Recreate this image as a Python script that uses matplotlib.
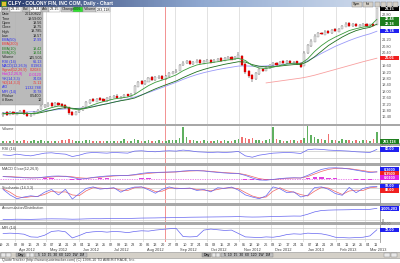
import matplotlib
matplotlib.use("Agg")
import matplotlib.pyplot as plt
import matplotlib.dates as mdates
from matplotlib.patches import Rectangle
from matplotlib.colors import LinearSegmentedColormap
import numpy as np
import pandas as pd

plt.rcParams["font.family"] = ["Liberation Sans", "DejaVu Sans"]

W, H = 400, 263

# ── Data ──────────────────────────────────────────────────────────────────────
START, END = "2012-03-21", "2013-03-12"
MARK_DATE = "2012-08-22"

CLOSE = [16.62, 16.55, 16.70, 16.58, 16.66, 16.78, 16.60, 16.48, 16.52, 16.70,
         16.85, 17.05, 17.12, 17.20, 17.08, 17.25, 17.18, 17.10, 16.95, 16.65,
         16.55, 16.72, 16.85, 17.00, 17.30, 17.42, 17.38, 17.50, 17.45, 17.40,
         17.55, 17.62, 17.70, 17.58, 17.66, 17.75, 17.70, 17.85, 18.30, 18.55,
         18.48, 18.62, 18.80, 18.72, 18.85, 18.90, 18.78, 18.95, 19.12, 19.20,
         19.28, 19.60, 19.78, 19.85, 19.70, 19.82, 19.90, 19.75, 19.85, 19.92,
         19.80, 19.95, 20.02, 19.90, 20.05, 20.10, 19.98, 20.12, 20.25, 19.65,
         19.20, 18.95, 18.75, 19.10, 19.35, 19.30, 19.48, 19.60, 19.72, 19.65,
         19.80, 19.75, 19.85, 19.78, 19.82, 19.70, 19.55, 20.40, 20.85, 21.15,
         21.45, 21.60, 21.55, 21.70, 21.65, 21.80, 21.75, 21.88, 22.05, 22.20,
         22.10, 22.15, 22.05, 22.12, 22.18, 22.08, 22.15, 22.10, 23.15]
OPEN = [16.50, 16.68, 16.55, 16.72, 16.55, 16.65, 16.80, 16.62, 16.45, 16.55,
        16.70, 16.88, 17.02, 17.10, 17.25, 17.10, 17.28, 17.20, 17.12, 16.98,
        16.70, 16.55, 16.70, 16.85, 17.02, 17.28, 17.48, 17.36, 17.55, 17.50,
        17.40, 17.52, 17.60, 17.72, 17.55, 17.64, 17.80, 17.68, 17.88, 18.30,
        18.60, 18.45, 18.60, 18.85, 18.70, 18.82, 18.92, 18.78, 18.95, 19.10,
        19.18, 19.30, 19.62, 19.75, 19.88, 19.68, 19.80, 19.92, 19.72, 19.85,
        19.95, 19.82, 19.92, 20.05, 19.92, 20.02, 20.12, 20.00, 20.10, 20.20,
        19.70, 19.25, 19.00, 18.78, 19.10, 19.40, 19.30, 19.45, 19.62, 19.75,
        19.66, 19.85, 19.74, 19.88, 19.76, 19.85, 19.72, 19.60, 20.42, 20.80,
        21.10, 21.42, 21.65, 21.52, 21.75, 21.62, 21.85, 21.72, 21.90, 22.02,
        22.22, 22.08, 22.20, 22.02, 22.10, 22.20, 22.05, 22.20, 22.15]
HIGH = [16.70, 16.74, 16.78, 16.80, 16.72, 16.85, 16.86, 16.68, 16.60, 16.76,
        16.92, 17.12, 17.22, 17.30, 17.32, 17.32, 17.35, 17.26, 17.18, 17.02,
        16.75, 16.80, 16.92, 17.08, 17.38, 17.50, 17.55, 17.58, 17.62, 17.56,
        17.62, 17.70, 17.78, 17.80, 17.72, 17.82, 17.86, 17.92, 18.40, 18.65,
        18.70, 18.70, 18.90, 18.92, 18.95, 19.00, 19.00, 19.02, 19.20, 19.28,
        19.36, 19.68, 19.86, 19.95, 19.95, 19.90, 19.98, 20.00, 19.92, 20.00,
        20.02, 20.02, 20.10, 20.12, 20.12, 20.18, 20.18, 20.20, 20.42, 20.28,
        19.78, 19.30, 19.08, 19.18, 19.45, 19.48, 19.55, 19.68, 19.80, 19.82,
        19.88, 19.92, 19.92, 19.95, 19.90, 19.90, 19.78, 20.50, 20.95, 21.25,
        21.55, 21.70, 21.72, 21.80, 21.82, 21.90, 21.92, 21.96, 22.12, 22.30,
        22.30, 22.25, 22.26, 22.20, 22.28, 22.26, 22.22, 22.26, 23.20]
LOW = [16.42, 16.48, 16.50, 16.50, 16.50, 16.60, 16.55, 16.40, 16.38, 16.50,
       16.65, 16.82, 16.98, 17.05, 17.00, 17.05, 17.10, 17.02, 16.90, 16.55,
       16.45, 16.50, 16.65, 16.80, 16.98, 17.22, 17.30, 17.30, 17.38, 17.32,
       17.35, 17.48, 17.55, 17.50, 17.50, 17.60, 17.62, 17.62, 17.82, 18.25,
       18.40, 18.40, 18.55, 18.65, 18.65, 18.75, 18.70, 18.72, 18.90, 19.05,
       19.12, 19.25, 19.58, 19.70, 19.62, 19.62, 19.75, 19.68, 19.68, 19.80,
       19.75, 19.78, 19.88, 19.85, 19.88, 19.98, 19.92, 19.95, 20.05, 19.55,
       19.10, 18.85, 18.60, 18.70, 19.02, 19.22, 19.25, 19.40, 19.58, 19.60,
       19.60, 19.70, 19.70, 19.72, 19.72, 19.65, 19.45, 19.55, 20.35, 20.75,
       21.05, 21.38, 21.48, 21.48, 21.58, 21.58, 21.68, 21.68, 21.85, 21.98,
       22.02, 22.02, 21.98, 21.98, 22.05, 22.02, 22.00, 22.05, 22.10]
VOLUME = [60, 45, 50, 70, 40, 55, 65, 50, 45, 80,
          60, 70, 55, 50, 60, 45, 50, 65, 70, 90,
          75, 55, 50, 60, 85, 70, 45, 50, 60, 55,
          45, 50, 60, 55, 45, 90, 60, 50, 110, 85,
          60, 55, 70, 60, 50, 65, 55, 60, 70, 75,
          65, 120, 390, 150, 80, 70, 60, 55, 65, 60,
          55, 60, 70, 55, 65, 60, 50, 70, 110, 160,
          130, 95, 120, 85, 70, 60, 65, 90, 400, 110,
          70, 60, 55, 65, 70, 60, 80, 120, 410, 200,
          150, 110, 90, 85, 220, 80, 70, 60, 90, 75,
          65, 60, 70, 55, 80, 65, 60, 90, 283.118]  # thousands

# indicators, sampled every 2nd bar
EMA10 = [16.60, 16.62, 16.63, 16.64, 16.60, 16.66, 16.84, 16.98, 17.08, 17.06,
         16.90, 16.84, 16.98, 17.15, 17.30, 17.40, 17.52, 17.58, 17.64, 17.80,
         18.08, 18.35, 18.56, 18.70, 18.85, 19.02, 19.28, 19.48, 19.64, 19.72,
         19.78, 19.84, 19.92, 19.98, 20.05, 19.92, 19.60, 19.45, 19.42, 19.50,
         19.60, 19.70, 19.75, 19.72, 20.02, 20.48, 20.85, 21.15, 21.38, 21.58,
         21.78, 21.90, 22.00, 22.06, 22.48]
EMA20 = [16.60, 16.61, 16.61, 16.62, 16.61, 16.63, 16.72, 16.82, 16.92, 16.98,
         16.94, 16.90, 16.94, 17.03, 17.13, 17.22, 17.32, 17.41, 17.48, 17.58,
         17.76, 17.96, 18.15, 18.32, 18.48, 18.64, 18.85, 19.04, 19.22, 19.36,
         19.48, 19.58, 19.68, 19.76, 19.84, 19.82, 19.66, 19.56, 19.52, 19.53,
         19.57, 19.62, 19.66, 19.67, 19.85, 20.15, 20.50, 20.85, 21.12, 21.38,
         21.60, 21.78, 21.90, 21.98, 22.18]
EMA50 = [16.65, 16.66, 16.68, 16.70, 16.72, 16.74, 16.78, 16.82, 16.86, 16.90,
         16.92, 16.94, 16.99, 17.06, 17.14, 17.22, 17.32, 17.42, 17.52, 17.64,
         17.78, 17.92, 18.08, 18.24, 18.40, 18.56, 18.74, 18.90, 19.04, 19.16,
         19.26, 19.35, 19.43, 19.50, 19.57, 19.58, 19.56, 19.56, 19.58, 19.62,
         19.66, 19.70, 19.74, 19.76, 19.90, 20.12, 20.36, 20.58, 20.80, 20.98,
         21.16, 21.32, 21.46, 21.58, 21.74]
EMA200 = [18.52, 18.58, 18.64, 18.70, 18.76, 18.82, 18.90, 19.00, 19.12, 19.24,
          19.36, 19.48, 19.60, 19.72, 19.84, 19.95, 20.06]  # last 17 samples
RSI = [48, 44, 52, 46, 42, 50, 58, 60, 55, 52, 38,
       46, 58, 62, 60, 58, 62, 60, 58, 70, 72,
       68, 66, 70, 72, 70, 76, 72, 66, 64, 62,
       64, 62, 64, 68, 42, 34, 46, 52, 58, 60,
       62, 60, 56, 78, 82, 80, 76, 74, 72, 70,
       66, 64, 62, 80]
MACD = [0.12, 0.10, 0.08, 0.06, 0.05, 0.06, 0.10, 0.14, 0.15, 0.13, 0.08,
        0.00, 0.02, 0.08, 0.12, 0.15, 0.17, 0.18, 0.18, 0.22, 0.28,
        0.32, 0.33, 0.34, 0.35, 0.36, 0.40, 0.42, 0.42, 0.40, 0.36,
        0.33, 0.30, 0.28, 0.27, 0.18, 0.05, -0.05, -0.06, -0.02, 0.02,
        0.05, 0.06, 0.05, 0.18, 0.34, 0.48, 0.55, 0.56, 0.54, 0.50,
        0.44, 0.38, 0.32, 0.36]
SIGNAL = [0.13, 0.12, 0.10, 0.08, 0.06, 0.06, 0.07, 0.10, 0.13, 0.14, 0.11,
          0.06, 0.04, 0.06, 0.09, 0.12, 0.15, 0.17, 0.18, 0.20, 0.24,
          0.28, 0.31, 0.33, 0.34, 0.35, 0.38, 0.40, 0.41, 0.41, 0.38,
          0.35, 0.32, 0.30, 0.28, 0.22, 0.12, 0.02, -0.03, -0.03, 0.00,
          0.03, 0.05, 0.05, 0.12, 0.25, 0.38, 0.48, 0.53, 0.54, 0.52,
          0.47, 0.42, 0.36, 0.35]
STOCH_K = [74, 42, 20, 30, 37, 32, 58, 74, 42, 75, 18, 50, 80, 89, 76, 80, 84, 58,
           78, 88, 89, 72, 52, 75, 89, 78, 80, 82, 68, 74, 60, 84, 80, 88, 70, 42,
           30, 20, 37, 89, 78, 55, 60, 30, 40, 85, 89, 75, 50, 40, 86, 55, 80, 89, 92]
STOCH_D = [78, 58, 32, 26, 32, 34, 45, 64, 58, 60, 42, 38, 66, 84, 82, 78, 82, 70,
           68, 84, 88, 80, 62, 64, 82, 82, 79, 81, 74, 70, 66, 74, 82, 84, 78, 56,
           36, 25, 30, 64, 84, 66, 58, 44, 36, 64, 86, 82, 62, 45, 65, 70, 68, 84, 88]
ACC_DIST = [200, 180, 230, 210, 190, 240, 300, 330, 310, 290, 230,
            260, 320, 360, 350, 380, 400, 390, 420, 470, 520,
            540, 560, 600, 620, 650, 700, 740, 760, 780, 800,
            820, 840, 860, 900, 820, 780, 800, 850, 900, 960,
            1000, 1040, 1020, 1500, 2100, 2450, 2550, 2600, 2620, 2650,
            2700, 2680, 2750, 3005.203]  # thousands
MFI = [50, 52, 50, 46, 30, 28, 40, 62, 66, 60, 24,
       38, 55, 60, 62, 58, 62, 60, 55, 62, 66,
       64, 70, 74, 78, 80, 32, 30, 32, 70, 76,
       72, 68, 70, 50, 30, 28, 26, 30, 28, 34,
       44, 48, 46, 52, 50, 48, 40, 28, 26, 24,
       26, 28, 36, 72]

INFO_ROWS = ["Date", "Time", "Open", "Close", "High", "Low", "EMA(50)", "EMA(200)",
             "EMA(10)", "EMA(20)", "Volume", "RSI (14)", "MACD(12,26,9)",
             "Signal(12,26,9)", "Hist(12,26,9)", "%K(14,3,3)", "%D(14,3,3)",
             "A/D", "MFI (14)", "P.Value", "# Bars"]
INFO_VALUES = ["20120822", "19:59:00", "19.56", "19.75", "19.785", "19.57", "17.99", "",
               "19.42", "19.04", "145,505", "66.13", "0.1963", "0.2083", "-0.0120",
               "74.08", "75.11", "1,132,788", "70.78", "0.5400", "10"]
QUOTE = [("Last", "23.15"), ("Bid", "23.14"), ("Ask", "23.15"),
         ("Change", "0.06"), ("Volume", "283,118")]
TITLE = "CLFY - COLONY FIN, INC COM, Daily - Chart"

# ── Derived positions ─────────────────────────────────────────────────────────
dates = pd.date_range(START, END, periods=len(CLOSE))
xd = mdates.date2num(dates)
step = xd[1] - xd[0]
xs = xd[::2]
o, c, h, l = map(np.array, (OPEN, CLOSE, HIGH, LOW))
up = c >= o
mark = mdates.date2num(pd.Timestamp(MARK_DATE))
months = mdates.date2num(pd.date_range(dates[0], dates[-1], freq="MS"))

BLUE = "#6464F0"
RED = "#F06464"


def px(x0, y0, x1, y1):
    return [x0 / W, 1 - y1 / H, (x1 - x0) / W, (y1 - y0) / H]


fig = plt.figure(figsize=(W / 100, H / 100), dpi=100)
fig.patch.set_facecolor("white")

bg = fig.add_axes([0, 0, 1, 1])
bg.set_xlim(0, W)
bg.set_ylim(H, 0)
bg.axis("off")

# title bar gradient
cmap = LinearSegmentedColormap.from_list("tb", ["#26386A", "#8FA8D0", "#D8E2F0"])
bg.imshow(np.linspace(0, 1, 200)[None, :], extent=(0, W, 7, 0), aspect="auto", cmap=cmap)
bg.set_xlim(0, W)
bg.set_ylim(H, 0)
bg.add_patch(Rectangle((1, 1), 5, 5, fc="#E0C030", ec="#208020", lw=0.5))
bg.text(8, 3.6, TITLE, color="white", fontsize=3.6, fontweight="bold", va="center")

# panel separators and frame
for y0, y1 in [(124, 126), (143, 146), (163, 166), (183, 185), (203, 206), (222, 225)]:
    bg.add_patch(Rectangle((0, y0), W, y1 - y0, fc="#A8A8A8", ec="none"))
bg.plot([380, 380], [7, 242], color="#9A9A9A", lw=0.6)

# scrollbar
bg.add_patch(Rectangle((0, 252), W, 5.5, fc="#D4D0C8", ec="#909090", lw=0.4))
for x0, wd, fc in [(1, 5, "#E8E8E8"), (6, 5, "#E8E8E8"), (16, 9, "#A8A8A8"),
                   (26, 4, "#E8E8E8"), (30, 4, "#E8E8E8"), (35, 52, "#C0C0C0"),
                   (202, 9, "#A8A8A8"), (212, 4, "#E8E8E8"), (216, 4, "#E8E8E8"),
                   (221, 52, "#C0C0C0"), (384, 6, "#E8E8E8"), (391, 6, "#E8E8E8")]:
    bg.add_patch(Rectangle((x0, 252.6), wd, 4.3, fc=fc, ec="#808080", lw=0.3))
bg.text(20.5, 254.9, "Day", fontsize=2.6, ha="center", va="center")
bg.text(206.5, 254.9, "Day", fontsize=2.6, ha="center", va="center")
bg.text(61, 254.9, "5  10  15  30  60  120  1W  1M", fontsize=2.4, ha="center", va="center")
bg.text(247, 254.9, "5  10  15  30  60  120  1W  1M", fontsize=2.4, ha="center", va="center")
bg.text(2, 260.5, "QuoteTracker (http://www.quotetracker.com) (C) 1998-10 TD AMERITRADE, Inc.",
        fontsize=2.7, color="#404040", va="center")

# ── Panels ────────────────────────────────────────────────────────────────────
rects = {
    "main": (7, 124), "vol": (126, 143), "rsi": (146, 163),
    "macd": (166, 183), "stoch": (185, 203), "ad": (206, 222), "mfi": (225, 242),
}
axes = {}
for name, (y0, y1) in rects.items():
    ax = fig.add_axes(px(0, y0, 380, y1))
    ax.set_facecolor("white")
    ax.set_xlim(xd[0] - 0.9 * step, xd[-1] + 0.9 * step)
    for s in ax.spines.values():
        s.set_visible(False)
    ax.set_xticks([])
    ax.yaxis.tick_right()
    ax.tick_params(axis="y", length=0, labelsize=2.8, pad=1.5, labelcolor="#505050")
    for m in months:
        ax.axvline(m, color="#D6D6D6", lw=0.5, zorder=0)
    ax.axvline(mark, color="#F08080", lw=0.6, zorder=1)
    axes[name] = ax


def tag(ax, v, text, fc, tc="white"):
    y0, y1 = ax.get_ylim()
    hpx = ax.get_position().height * H
    dh = 4.4 / hpx * (y1 - y0)
    tr = ax.get_yaxis_transform()
    ax.add_patch(Rectangle((1.0, v - dh / 2), 19 / 380, dh, transform=tr, fc=fc,
                           ec="none", clip_on=False, zorder=6))
    ax.text(1.0 + 9.5 / 380, v, text, transform=tr, ha="center", va="center",
            fontsize=2.8, color=tc, clip_on=False, zorder=7, fontweight="bold")


# main price panel
ax = axes["main"]
ax.set_ylim(15.96, 23.25)
tags = [(CLOSE[-1], "black"), (EMA10[-1], "#1E7E1E"), (EMA20[-1], "#1E7E1E"),
        (EMA50[-1], "#2020F0"), (EMA200[-1], "#F02020")]
ticks = [t for t in np.arange(16.4, 22.81, 0.4) if min(abs(t - v) for v, _ in tags) > 0.2]
ax.set_yticks(ticks)
ax.yaxis.set_major_formatter(matplotlib.ticker.FormatStrFormatter("%.2f"))
ax.vlines(xd, l, h, color="#202020", lw=0.35, zorder=3)
ax.bar(xd[up], (c - o)[up] + 0.02, bottom=o[up] - 0.01, width=step * 0.6,
       color="#E4E4E4", edgecolor="#808080", lw=0.25, zorder=4)
ax.bar(xd[~up], (o - c)[~up] + 0.02, bottom=c[~up] - 0.01, width=step * 0.6,
       color="#E00000", edgecolor="#E00000", lw=0.25, zorder=4)
ax.plot(xs, EMA50, color="#9A9AF8", lw=0.6, zorder=2)
ax.plot(xs[-len(EMA200):], EMA200, color="#F8A0A0", lw=0.6, zorder=2)
ax.plot(xs, EMA20, color="#1E6E1E", lw=0.6, zorder=5)
ax.plot(xs, EMA10, color="#3A9A3A", lw=0.6, zorder=5)
for v, col in tags:
    tag(ax, v, f"{v:.2f}", col)

# volume
ax = axes["vol"]
vol = np.array(VOLUME)
ax.bar(xd, vol, width=step * 0.45, color=np.where(up, "#60B060", "#F07070"), zorder=3)
ax.set_ylim(0, 420)
ax.set_yticks([])
tag(ax, 40, f"{VOLUME[-1] * 1000:,.0f}", "#1E7E1E")

# RSI
ax = axes["rsi"]
ax.set_ylim(0, 100)
ax.set_yticks([])
for v in (30, 70):
    ax.axhline(v, color="#C8C8C8", lw=0.5, zorder=1)
ax.plot(xs, RSI, color=BLUE, lw=0.5, zorder=3)
tag(ax, RSI[-1], f"{RSI[-1]:.2f}", "#2020F0")
bg.text(381, 144.6, "100.00", fontsize=2.4, color="#606060", va="center")

# MACD
ax = axes["macd"]
ax.set_ylim(-0.2, 0.65)
ax.set_yticks([])
hist = np.array(MACD) - np.array(SIGNAL)
ax.axhline(0, color="#E060E0", lw=0.5, ls=(0, (2, 1.5)), zorder=1)
ax.bar(xs, hist, width=step * 1.2, color="#E040E0", zorder=2)
ax.plot(xs, SIGNAL, color=RED, lw=0.5, zorder=3)
ax.plot(xs, MACD, color=BLUE, lw=0.5, zorder=4)
tag(ax, 0.47, f"{MACD[-1]:.4f}", "#2020F0")
tag(ax, 0.27, f"{SIGNAL[-1]:.4f}", "#F02020")
tag(ax, 0.07, f"{hist[-1]:.4f}", "#E020E0")

# Stochastic
ax = axes["stoch"]
ax.set_ylim(-5, 100)
ax.set_yticks([])
for v in (20, 80):
    ax.axhline(v, color="#C8C8C8", lw=0.5, zorder=1)
ax.plot(xs, STOCH_D, color=RED, lw=0.5, zorder=3)
ax.plot(xs, STOCH_K, color=BLUE, lw=0.5, zorder=4)
tag(ax, 92, f"{STOCH_K[-1]:.2f}", "#2020F0")
tag(ax, 68, f"{STOCH_D[-1]:.2f}", "#F02020")

# Accumulation / Distribution
ax = axes["ad"]
ax.set_ylim(-480, 3600)
ax.set_yticks([0])
ax.set_yticklabels(["0"])
ax.axhline(0, color="#C8C8C8", lw=0.5, zorder=1)
ax.plot(xs, ACC_DIST, color=BLUE, lw=0.5, zorder=3)
tag(ax, ACC_DIST[-1], f"{ACC_DIST[-1] * 1000:,.0f}", "#2020F0")

# MFI
ax = axes["mfi"]
ax.set_ylim(0, 100)
ax.set_yticks([])
for v in (20, 80):
    ax.axhline(v, color="#C8C8C8", lw=0.5, zorder=1)
ax.plot(xs, MFI, color=BLUE, lw=0.5, zorder=3)
tag(ax, MFI[-1], f"{MFI[-1]:.2f}", "#2020F0")
bg.text(381, 223.6, "100.00", fontsize=2.4, color="#606060", va="center")
ax.xaxis.set_major_locator(mdates.WeekdayLocator(byweekday=mdates.MO))
ax.xaxis.set_major_formatter(mdates.DateFormatter("%d"))
ax.tick_params(axis="x", length=0, labelsize=2.8, pad=1.0, labelcolor="#404040")
for m in months:
    ax.text(m + 4, -0.47, mdates.num2date(m).strftime("%b %Y"), transform=ax.get_xaxis_transform(),
            fontsize=2.8, color="#404040", va="center", ha="left")

# panel labels
for name, lab in [("vol", "Volume"), ("rsi", "RSI (14)"), ("macd", "MACD Close(12,26,9)"),
                  ("stoch", "Stochastic (14,3,3)"), ("ad", "Accumulation/Distribution"),
                  ("mfi", "MFI (14)")]:
    axes[name].text(0.005, 0.97, lab, transform=axes[name].transAxes, fontsize=2.7,
                    color="#404040", va="top", ha="left", zorder=8)

# ── Overlay: quote row, buttons, info box ─────────────────────────────────────
top = fig.add_axes([0, 0, 1, 1])
top.set_xlim(0, W)
top.set_ylim(H, 0)
top.axis("off")

x = 1
for lab, val in QUOTE:
    lw_ = 3.2 + 1.55 * len(lab)
    vw = 2.5 + 1.7 * len(val)
    top.add_patch(Rectangle((x, 7.2), lw_, 4.4, fc="#C8C8C8", ec="#909090", lw=0.3))
    top.text(x + 0.8, 9.4, lab, fontsize=2.7, va="center", color="#202020")
    top.add_patch(Rectangle((x + lw_, 7.2), vw, 4.4,
                            fc="#30E030" if lab == "Change" else "white", ec="#909090", lw=0.3))
    top.text(x + lw_ + 0.8, 9.4, val, fontsize=2.7, va="center", color="#202020")
    x += lw_ + vw + 0.6

for x0, lab in [(352, "Sym"), (363, "Int")]:
    top.add_patch(Rectangle((x0, 1.5), 10, 5, fc="#D4D0C8", ec="#808080", lw=0.3))
    top.text(x0 + 5, 4, lab, fontsize=2.6, ha="center", va="center")
for x0 in (375, 381, 387, 393):
    top.add_patch(Rectangle((x0, 1.5), 5, 5, fc="#D4D0C8", ec="#808080", lw=0.3))

top.add_patch(Rectangle((0, 12), 43, 93, fc="#B4B4B4", ec="#909090", lw=0.3, alpha=0.92))
row_colors = ["#202020"] * 6 + ["#3030F0", "#F03030", "#208020", "#208020", "#202020",
              "#3030F0", "#3030F0", "#F03030", "#E020E0", "#3030F0", "#F03030",
              "#3030F0", "#3030F0", "#202020", "#202020"]
for i, (lab, val) in enumerate(zip(INFO_ROWS, INFO_VALUES)):
    y = 14.3 + i * 4.3
    top.text(1.5, y, lab, fontsize=2.7, color=row_colors[i], va="center")
    top.text(42, y, val, fontsize=2.7, color=row_colors[i], va="center", ha="right")

fig.savefig("out.png", dpi=100, facecolor="white")
